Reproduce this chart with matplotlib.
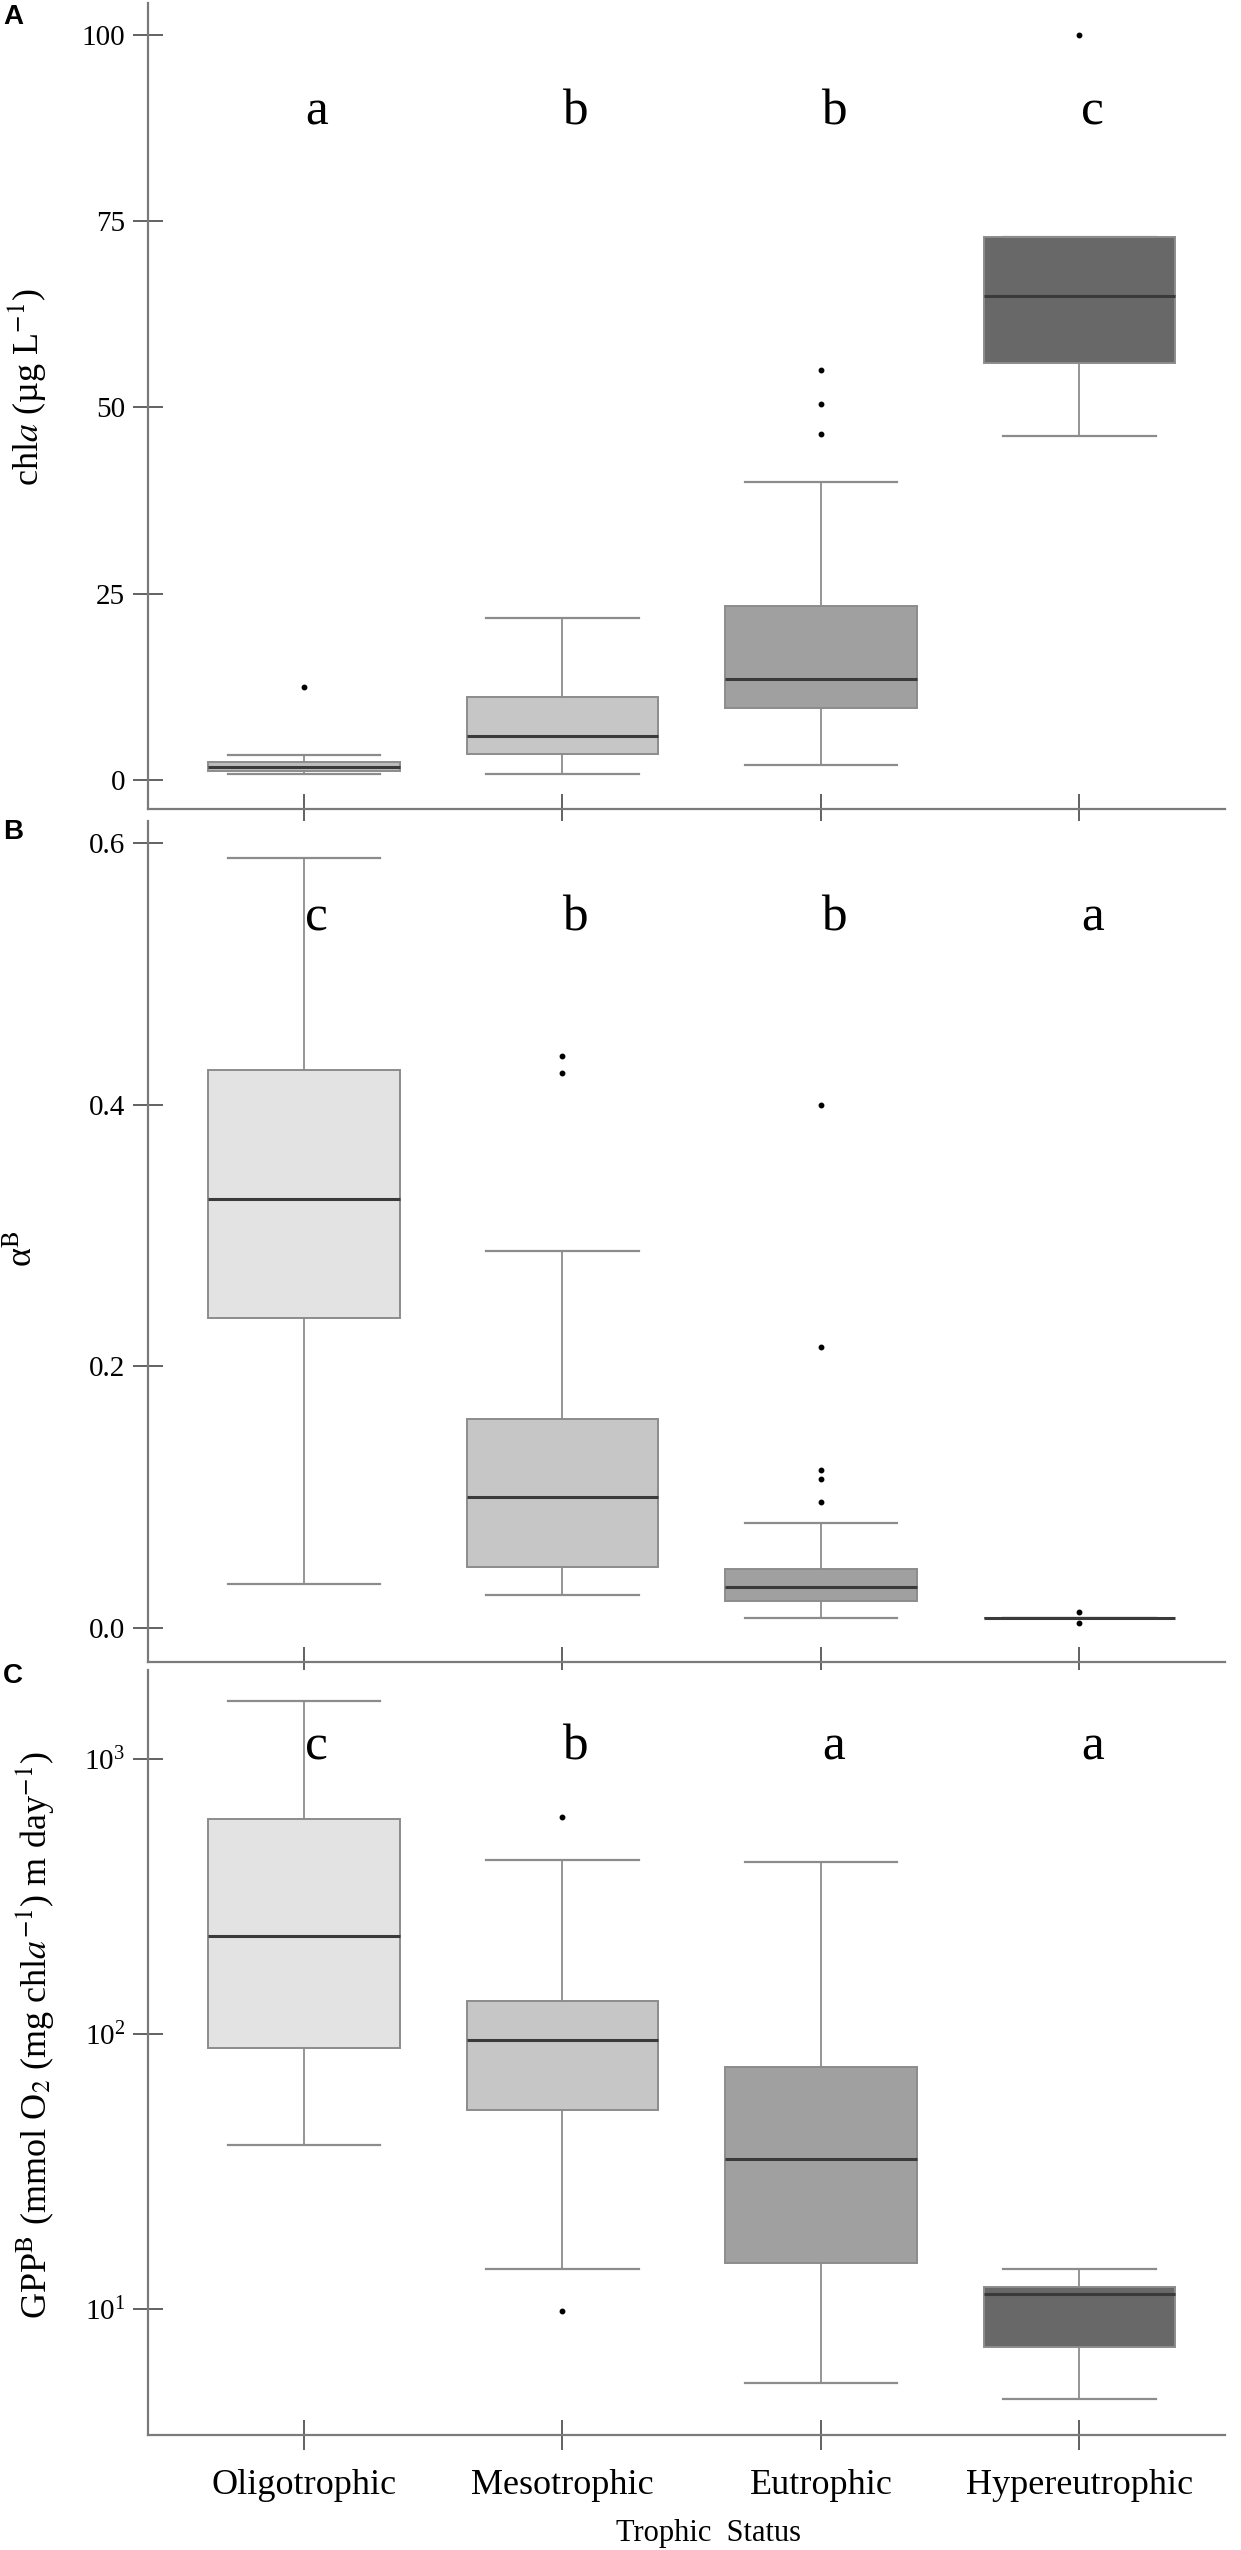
import matplotlib
matplotlib.use("Agg")
import matplotlib.pyplot as plt
from matplotlib.ticker import FixedLocator, NullLocator, LogFormatterMathtext, FormatStrFormatter

plt.rcParams['font.family'] = ['Liberation Serif', 'DejaVu Serif']
plt.rcParams['mathtext.fontset'] = 'stix'

categories = ['Oligotrophic', 'Mesotrophic', 'Eutrophic', 'Hypereutrophic']
box_colors = ['#e3e3e3', '#c6c6c6', '#a0a0a0', '#686868']
chla_box_colors = ['#bdbdbd', '#c6c6c6', '#a0a0a0', '#686868']

# panel A: chla (ug/L)
chla_whislo = [0.86, 0.86, 2.0, 46.2]
chla_q1 = [1.2, 3.5, 9.6, 56.0]
chla_med = [1.7, 5.9, 13.6, 65.0]
chla_q3 = [2.4, 11.2, 23.4, 72.9]
chla_whishi = [3.4, 21.8, 40.0, 72.9]
chla_fliers = [[12.5], [], [46.5, 50.5, 55.0], [100.0]]
chla_letters = ['a', 'b', 'b', 'c']

# panel B: alpha B
alpha_whislo = [0.034, 0.025, 0.008, 0.008]
alpha_q1 = [0.237, 0.047, 0.021, 0.008]
alpha_med = [0.328, 0.100, 0.031, 0.008]
alpha_q3 = [0.427, 0.160, 0.045, 0.008]
alpha_whishi = [0.589, 0.288, 0.080, 0.008]
alpha_fliers = [[], [0.424, 0.437], [0.096, 0.114, 0.121, 0.215, 0.400], [0.004, 0.012]]
alpha_letters = ['c', 'b', 'b', 'a']

# panel C: GPP B
gpp_whislo = [39.5, 14.0, 5.4, 4.7]
gpp_q1 = [89.0, 53.0, 14.7, 7.3]
gpp_med = [227.0, 95.0, 35.0, 11.3]
gpp_q3 = [605.0, 132.0, 76.0, 12.0]
gpp_whishi = [1630.0, 430.0, 422.0, 14.0]
gpp_fliers = [[], [9.8, 615.0], [], []]
gpp_letters = ['c', 'b', 'a', 'a']

W, H = 1241, 2550
EDGE = '#8c8c8c'
SPINE = '#7a7a7a'


def make_stats(lo, q1, med, q3, hi, fliers):
    """Build the list of dicts that bxp wants"""
    stats = []
    for i in range(len(lo)):
        stats.append(dict(whislo=lo[i], q1=q1[i], med=med[i], q3=q3[i],
                          whishi=hi[i], fliers=fliers[i]))
    return stats


def draw_panel(ax, stats, colors, letters, letter_y):
    pos = list(range(len(stats)))
    bp = ax.bxp(stats, positions=pos, widths=0.74, capwidths=0.59,
                patch_artist=True, showfliers=True,
                boxprops=dict(edgecolor=EDGE, linewidth=1.4),
                whiskerprops=dict(color=EDGE, linewidth=1.3),
                capprops=dict(color=EDGE, linewidth=1.6),
                medianprops=dict(color='#3a3a3a', linewidth=2.2),
                flierprops=dict(marker='o', markerfacecolor='black',
                                markeredgecolor='black', markersize=3.2))
    for patch, c in zip(bp['boxes'], colors):
        patch.set_facecolor(c)
    for i, letter in enumerate(letters):
        ax.text(pos[i] + 0.05, letter_y, letter, fontsize=37, ha='center', va='baseline')
    ax.set_xlim(-0.603, 3.563)
    ax.xaxis.set_major_locator(FixedLocator(pos))
    for s in ['top', 'right']:
        ax.spines[s].set_visible(False)
    for s in ['left', 'bottom']:
        ax.spines[s].set_color(SPINE)
        ax.spines[s].set_linewidth(1.6)
    ax.tick_params(axis='both', direction='inout', length=21, width=1.3, color='#555555')
    ax.tick_params(axis='y', labelsize=21, pad=6)
    ax.tick_params(axis='x', labelsize=26, pad=14)


def px_axes(top, bottom, left=148, right=1225):
    return [left / W, 1 - bottom / H, (right - left) / W, (bottom - top) / H]


fig = plt.figure(figsize=(W / 100, H / 100), dpi=100)

# A
ax1 = fig.add_axes(px_axes(3, 809))
draw_panel(ax1, make_stats(chla_whislo, chla_q1, chla_med, chla_q3, chla_whishi, chla_fliers),
           chla_box_colors, chla_letters, 88)
ax1.set_ylim(-3.9, 104.3)
ax1.yaxis.set_major_locator(FixedLocator([0, 25, 50, 75, 100]))
ax1.set_xticklabels([])

# B
ax2 = fig.add_axes(px_axes(821, 1662))
draw_panel(ax2, make_stats(alpha_whislo, alpha_q1, alpha_med, alpha_q3, alpha_whishi, alpha_fliers),
           box_colors, alpha_letters, 0.533)
ax2.set_ylim(-0.026, 0.617)
ax2.yaxis.set_major_locator(FixedLocator([0.0, 0.2, 0.4, 0.6]))
ax2.yaxis.set_major_formatter(FormatStrFormatter('%.1f'))
ax2.set_xticklabels([])

# C
ax3 = fig.add_axes(px_axes(1670, 2435))
ax3.set_yscale('log')
draw_panel(ax3, make_stats(gpp_whislo, gpp_q1, gpp_med, gpp_q3, gpp_whishi, gpp_fliers),
           box_colors, gpp_letters, 1000)
ax3.set_ylim(10 ** 0.542, 10 ** 3.324)
ax3.yaxis.set_major_locator(FixedLocator([10, 100, 1000]))
ax3.yaxis.set_major_formatter(LogFormatterMathtext())
ax3.yaxis.set_minor_locator(NullLocator())
ax3.set_xticklabels(categories)

# axis titles
fig.text(27 / W, 1 - 387 / H, r'chl$\mathit{a}$ (µg L$^{-1}$)', rotation=90,
         ha='center', va='center', fontsize=26)
fig.text(23 / W, 1 - 1249 / H, r'α$^{\mathrm{B}}$', rotation=90,
         ha='center', va='center', fontsize=26)
fig.text(35 / W, 1 - 2035 / H,
         r'GPP$^{\mathrm{B}}$ (mmol O$_2$ (mg chl$\mathit{a}^{-1}$) m day$^{-1}$)',
         rotation=90, ha='center', va='center', fontsize=26)
fig.text(709 / W, 1 - 2533 / H, 'Trophic  Status', ha='center', va='center', fontsize=22)

# panel letters
for label, y in [('A', 4), ('B', 819), ('C', 1663)]:
    fig.text(3 / W, 1 - y / H, label, ha='left', va='top', fontsize=20,
             fontweight='bold', family='Liberation Sans')

fig.savefig('out.png', dpi=100)
